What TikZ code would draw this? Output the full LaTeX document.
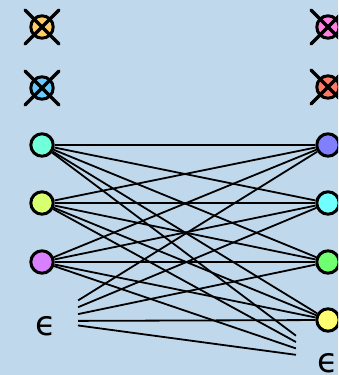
\documentclass[tikz,border=0pt]{standalone}
\usepackage{fontspec}
\newfontfamily\epsfont{DejaVu Sans}
\usetikzlibrary{shapes.misc,calc}

\definecolor{bgblue}{RGB}{192,216,235}
\definecolor{vorange}{RGB}{255,204,102}
\definecolor{vsky}{RGB}{102,204,255}
\definecolor{vpink}{RGB}{255,128,224}
\definecolor{vsalmon}{RGB}{255,119,102}
\definecolor{vaqua}{RGB}{112,255,216}
\definecolor{vlime}{RGB}{216,255,112}
\definecolor{vviolet}{RGB}{216,128,255}
\definecolor{vblue}{RGB}{128,128,255}
\definecolor{vcyan}{RGB}{112,255,255}
\definecolor{vgreen}{RGB}{112,255,112}
\definecolor{vyellow}{RGB}{255,255,112}

\begin{document}
\begin{tikzpicture}[
    x=1pt, y=-1pt,
    vertex/.style={circle, draw=black, line width=3pt, minimum size=22.4pt, inner sep=0pt},
    gone/.style={cross out, draw=black, line width=3.2pt, minimum size=31pt, inner sep=0pt, line cap=round},
    edge/.style={black, line width=1.8pt},
    eps/.style={font=\epsfont\fontsize{34}{34}\selectfont, inner sep=0pt}
]
\fill[bgblue] (0,0) rectangle (338,375);
\clip (0,0) rectangle (338,375);

% left column
\node[vertex, fill=vorange] (l1) at (42,27) {};
\node[vertex, fill=vsky] (l2) at (42,88) {};
\node[vertex, fill=vaqua] (l3) at (42,145) {};
\node[vertex, fill=vlime] (l4) at (42,203) {};
\node[vertex, fill=vviolet] (l5) at (42,262) {};
\node[eps] (le) at (46,326) {ϵ};
\coordinate (lhub) at (45,321);

% right column
\node[vertex, fill=vpink] (r1) at (328,27) {};
\node[vertex, fill=vsalmon] (r2) at (328,87) {};
\node[vertex, fill=vblue] (r3) at (328,145) {};
\node[vertex, fill=vcyan] (r4) at (328,203) {};
\node[vertex, fill=vgreen] (r5) at (328,262) {};
\node[vertex, fill=vyellow] (r6) at (328,320) {};
\node[eps] (re) at (328,363) {ϵ};
\coordinate (rhub) at (327,359);

% removed vertices
\node[gone] (l1x) at (l1) {};
\node[gone] (l2x) at (l2) {};
\node[gone] (r1x) at (r1) {};
\node[gone] (r2x) at (r2) {};

% edges
\draw[edge] (l3) -- (r3);
\draw[edge] (l3) -- (r4);
\draw[edge] (l3) -- (r5);
\draw[edge] (l3) -- (r6);
\draw[edge] (l3) -- ($(l3)!0.891!(rhub)$);
\draw[edge] (l4) -- (r3);
\draw[edge] (l4) -- (r4);
\draw[edge] (l4) -- (r5);
\draw[edge] (l4) -- (r6);
\draw[edge] (l4) -- ($(l4)!0.891!(rhub)$);
\draw[edge] (l5) -- (r3);
\draw[edge] (l5) -- (r4);
\draw[edge] (l5) -- (r5);
\draw[edge] (l5) -- (r6);
\draw[edge] (l5) -- ($(l5)!0.891!(rhub)$);
\draw[edge] ($(lhub)!0.117!(r3)$) -- (r3);
\draw[edge] ($(lhub)!0.117!(r4)$) -- (r4);
\draw[edge] ($(lhub)!0.117!(r5)$) -- (r5);
\draw[edge] ($(lhub)!0.117!(r6)$) -- (r6);
\draw[edge] ($(lhub)!0.117!(rhub)$) -- ($(lhub)!0.890!(rhub)$);
\end{tikzpicture}
\end{document}
